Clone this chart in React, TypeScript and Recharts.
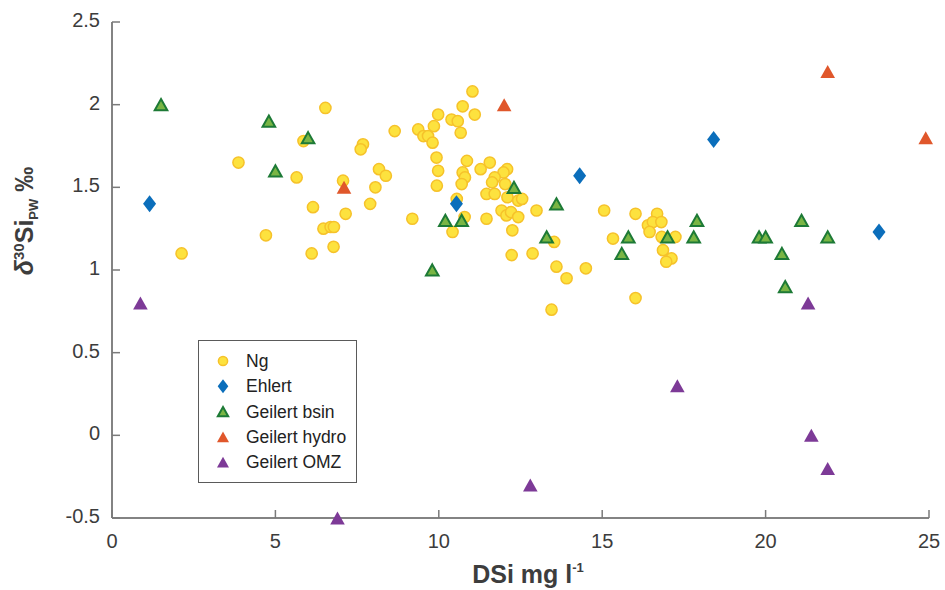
import React from "react";
import { ScatterChart, Scatter, XAxis, YAxis, Legend } from "recharts";

// DSi (mg/l) vs d30Si pore water
const ngPoints: [number, number][] = [
  [2.13, 1.1], [3.87, 1.65], [4.71, 1.21], [5.65, 1.56], [5.86, 1.78], [6.53, 1.98],
  [6.15, 1.38], [6.11, 1.1], [6.47, 1.25], [6.69, 1.26], [6.79, 1.26], [6.78, 1.14],
  [7.07, 1.54], [7.15, 1.34], [7.68, 1.76], [7.61, 1.73], [8.17, 1.61], [8.38, 1.57],
  [8.06, 1.5], [7.9, 1.4], [8.65, 1.84], [9.19, 1.31], [9.37, 1.85], [9.53, 1.81],
  [9.67, 1.81], [9.81, 1.77], [9.85, 1.87], [9.98, 1.94], [9.93, 1.68], [9.98, 1.6],
  [9.94, 1.51], [10.39, 1.91], [10.58, 1.9], [10.67, 1.83], [10.73, 1.99], [11.03, 2.08],
  [11.1, 1.94], [10.86, 1.66], [10.73, 1.59], [10.8, 1.56], [10.7, 1.52], [11.28, 1.61],
  [11.56, 1.65], [12.09, 1.61], [11.98, 1.59], [11.71, 1.56], [11.63, 1.53], [12.03, 1.52],
  [11.46, 1.46], [11.71, 1.46], [12.1, 1.44], [12.43, 1.42], [12.55, 1.43], [10.55, 1.43],
  [10.79, 1.32], [10.42, 1.23], [11.46, 1.31], [11.92, 1.36], [12.07, 1.33], [12.21, 1.35],
  [12.43, 1.32], [12.99, 1.36], [12.25, 1.24], [13.53, 1.17], [12.23, 1.09], [12.87, 1.1],
  [13.6, 1.02], [13.91, 0.95], [14.5, 1.01], [13.45, 0.76], [15.06, 1.36], [16.02, 1.34],
  [15.33, 1.19], [16.02, 0.83], [16.68, 1.34], [16.4, 1.27], [16.55, 1.29], [16.81, 1.29],
  [16.45, 1.23], [16.86, 1.12], [17.12, 1.07], [16.96, 1.05], [17.24, 1.2], [16.82, 1.2],
];
const ehlertPoints: [number, number][] = [
  [1.15, 1.4], [10.54, 1.4], [14.31, 1.57], [18.41, 1.79], [23.47, 1.23],
];
const bsinPoints: [number, number][] = [
  [1.5, 2.0], [4.8, 1.9], [6.0, 1.8], [5.0, 1.6], [9.8, 1.0], [10.2, 1.3], [10.7, 1.3],
  [12.3, 1.5], [13.6, 1.4], [13.3, 1.2], [15.6, 1.1], [15.8, 1.2], [17.0, 1.2], [17.8, 1.2],
  [17.9, 1.3], [19.8, 1.2], [20.0, 1.2], [20.5, 1.1], [20.6, 0.9], [21.1, 1.3], [21.9, 1.2],
];
const hydroPoints: [number, number][] = [
  [7.1, 1.5], [12.0, 2.0], [21.9, 2.2], [24.9, 1.8],
];
const omzPoints: [number, number][] = [
  [0.87, 0.8], [6.9, -0.5], [12.8, -0.3], [17.3, 0.3], [21.3, 0.8], [21.4, 0.0], [21.9, -0.2],
];

const xTicks = [0, 5, 10, 15, 20, 25];
const yTicks = [-0.5, 0, 0.5, 1, 1.5, 2, 2.5];

const FONT = "'Liberation Sans', Arial, Helvetica, sans-serif";
const TICK_COLOR = "#3c3c3c";

const toRows = (pts: [number, number][]) => pts.map(([x, y]) => ({ x, y }));

type Kind = "circle" | "diamond" | "triangle";

function Marker({ kind, cx, cy, fill, stroke, s = 1 }: any) {
  if (kind === "circle") {
    return <circle cx={cx} cy={cy} r={5.6 * s} fill={fill} stroke={stroke} strokeWidth={1.5} />;
  }
  if (kind === "diamond") {
    const w = 6.5 * s;
    const h = 8.5 * s;
    return (
      <polygon
        points={`${cx},${cy - h} ${cx + w},${cy} ${cx},${cy + h} ${cx - w},${cy}`}
        fill={fill}
      />
    );
  }
  const w = (stroke ? 6.3 : 7.3) * s;
  const h = (stroke ? 5.6 : 6.5) * s;
  return (
    <polygon
      points={`${cx},${cy - h} ${cx + w},${cy + h} ${cx - w},${cy + h}`}
      fill={fill}
      stroke={stroke || "none"}
      strokeWidth={stroke ? 2 : 0}
      strokeLinejoin="miter"
    />
  );
}

const series: { name: string; data: [number, number][]; kind: Kind; fill: string; stroke?: string }[] = [
  { name: "Ng", data: ngPoints, kind: "circle", fill: "#FDE23E", stroke: "#F6C22A" },
  { name: "Ehlert", data: ehlertPoints, kind: "diamond", fill: "#0B6EBB" },
  { name: "Geilert bsin", data: bsinPoints, kind: "triangle", fill: "#79B544", stroke: "#1D7A36" },
  { name: "Geilert hydro", data: hydroPoints, kind: "triangle", fill: "#E0572B" },
  { name: "Geilert OMZ", data: omzPoints, kind: "triangle", fill: "#7D3A97" },
];

function XTick({ x, y, payload }: any) {
  return (
    <g>
      <line x1={x} x2={x} y1={y} y2={y - 8} stroke="#7a7a7a" strokeWidth={1.5} />
      <text x={x} y={y + 30} textAnchor="middle" fontSize={20} fill={TICK_COLOR} fontFamily={FONT}>
        {payload.value}
      </text>
    </g>
  );
}

function YTick({ x, y, payload }: any) {
  return (
    <g>
      <line x1={x} x2={x + 8} y1={y} y2={y} stroke="#7a7a7a" strokeWidth={1.5} />
      <text x={x - 12} y={y + 5} textAnchor="end" fontSize={20} fill={TICK_COLOR} fontFamily={FONT}>
        {payload.value}
      </text>
    </g>
  );
}

function XTitle() {
  // the reference clips the descender at the bottom edge; keep it just inside
  return (
    <text x={528} y={583} textAnchor="middle" fontSize={25} fontWeight="bold" fill="#3d3d3d" fontFamily={FONT}>
      DSi mg l
      <tspan fontSize={13} dy={-11}>-1</tspan>
    </text>
  );
}

function YTitle() {
  return (
    <text
      transform="translate(33, 221) rotate(-90)"
      textAnchor="middle"
      fontSize={25}
      fontWeight="bold"
      fill="#3d3d3d"
      fontFamily={FONT}
    >
      <tspan fontStyle="italic">δ</tspan>
      <tspan fontSize={15} dy={-9}>30</tspan>
      <tspan dy={9}>Si</tspan>
      <tspan fontSize={13} dy={5}>PW</tspan>
      <tspan dy={-5}> ‰</tspan>
    </text>
  );
}

function LegendBox() {
  return (
    <div
      style={{
        width: 159,
        height: 143,
        boxSizing: "border-box",
        border: "1px solid #5a5a5a",
        background: "#fff",
        position: "relative",
      }}
    >
      <svg width={157} height={141} style={{ position: "absolute", left: 0, top: 0 }}>
        {series.map((s, i) => {
          const cy = 20 + i * 25.3;
          return (
            <g key={s.name}>
              <Marker kind={s.kind} cx={24} cy={cy} fill={s.fill} stroke={s.stroke} s={0.82} />
              <text x={47} y={cy + 6} fontSize={17.5} fill="#222" fontFamily={FONT}>
                {s.name}
              </text>
            </g>
          );
        })}
      </svg>
    </div>
  );
}

export default function App() {
  return (
    <div style={{ position: "absolute", left: 0, top: 0, background: "#fff" }}>
      <ScatterChart width={945} height={590} margin={{ top: 22, right: 16, bottom: 12, left: 52 }}>
        <XAxis
          type="number"
          dataKey="x"
          domain={[0, 25]}
          ticks={xTicks}
          height={60}
          tickSize={0}
          tickMargin={0}
          tickLine={false}
          axisLine={{ stroke: "#5a5a5a", strokeWidth: 1.5 }}
          tick={<XTick />}
          label={<XTitle />}
        />
        <YAxis
          type="number"
          dataKey="y"
          domain={[-0.5, 2.5]}
          ticks={yTicks}
          width={60}
          tickSize={0}
          tickMargin={0}
          tickLine={false}
          axisLine={{ stroke: "#5a5a5a", strokeWidth: 1.5 }}
          tick={<YTick />}
          label={<YTitle />}
        />
        <Legend
          layout="vertical"
          align="center"
          verticalAlign="middle"
          content={<LegendBox />}
          wrapperStyle={{ position: "absolute", left: 198, top: 340, width: 159, height: 143 }}
        />
        {series.map((s) => (
          <Scatter
            key={s.name}
            name={s.name}
            data={toRows(s.data)}
            fill={s.fill}
            isAnimationActive={false}
            shape={(p: any) => (
              <Marker kind={s.kind} cx={p.cx} cy={p.cy} fill={s.fill} stroke={s.stroke} />
            )}
          />
        ))}
      </ScatterChart>
    </div>
  );
}
